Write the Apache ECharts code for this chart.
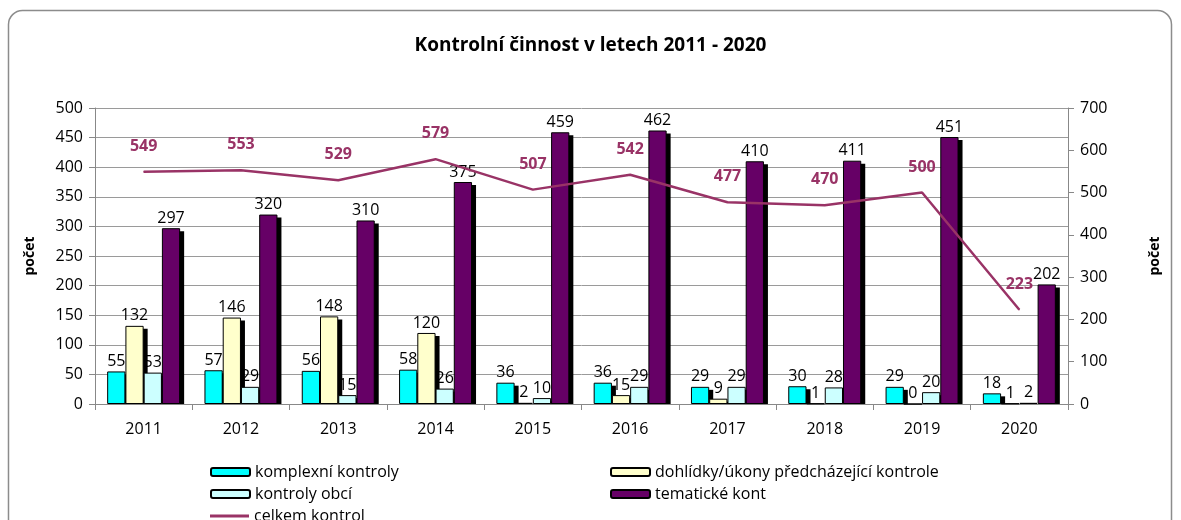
<!DOCTYPE html>
<html>
<head>
    <meta charset="utf-8"/>
    <title>Kontrolní činnost</title>
    <script src="https://cdn.jsdelivr.net/npm/echarts@6/dist/echarts.min.js"></script>
    <style>
        html, body { margin: 0; padding: 0; background: #fff; }
        #main { width: 1181px; height: 520px; }
    </style>
</head>
<body>
<div id="main"></div>
<script>
    // data
    var years = ['2011', '2012', '2013', '2014', '2015', '2016', '2017', '2018', '2019', '2020'];
    var komplexni = [55, 57, 56, 58, 36, 36, 29, 30, 29, 18];
    var dohlidky = [132, 146, 148, 120, 2, 15, 9, 1, 0, 1];
    var obce = [53, 29, 15, 26, 10, 29, 29, 28, 20, 2];
    var tematicke = [297, 320, 310, 375, 459, 462, 410, 411, 451, 202];
    var celkem = [549, 553, 529, 579, 507, 542, 477, 470, 500, 223];

    var font = '"Open Sans", sans-serif';
    var catGap = 0.25;

    function barSeries(name, color, data) {
        return {
            name: name,
            type: 'bar',
            yAxisIndex: 0,
            barGap: '0%',
            barCategoryGap: (catGap * 100) + '%',
            data: data,
            z: 3,
            itemStyle: { color: color, borderColor: '#000', borderWidth: 1 },
            label: {
                show: true,
                position: 'top',
                distance: 2,
                color: '#000',
                fontFamily: font,
                fontSize: 16
            }
        };
    }

    // rows for the shadow series: [category index, 4 bar values]
    var shadowRows = [];
    for (var i = 0; i < years.length; i++) {
        shadowRows.push([i, komplexni[i], dohlidky[i], obce[i], tematicke[i]]);
    }

    // black drop shadow behind each bar, like in the Excel chart
    function renderShadow(params, api) {
        var idx = api.value(0);
        var band = api.size([1, 0])[0];
        var groupW = band * (1 - catGap);
        var bw = groupW / 4;
        var base = api.coord([idx, 0]);
        var kids = [];
        for (var s = 0; s < 4; s++) {
            var top = api.coord([idx, api.value(s + 1)])[1];
            var h = base[1] - top - 3;
            if (h <= 0) continue;
            kids.push({
                type: 'rect',
                shape: { x: base[0] - groupW / 2 + s * bw + 4, y: top + 3, width: bw, height: h },
                style: { fill: '#000' }
            });
        }
        return { type: 'group', children: kids };
    }

    function legendItem(name, left, top, h) {
        return {
            orient: 'horizontal',
            left: left,
            top: top,
            itemWidth: 39,
            itemHeight: h,
            itemGap: 4,
            data: h < 5 ? [{ name: name, icon: 'rect' }] : [name],
            textStyle: { fontFamily: font, fontSize: 16, color: '#000' }
        };
    }

    var chart = echarts.init(document.getElementById('main'));
    var option = {
        backgroundColor: '#fff',
        animation: false,
        textStyle: { fontFamily: font },
        graphic: [{
            type: 'rect',
            shape: { x: 8.5, y: 10.5, width: 1163, height: 540, r: 14 },
            style: { fill: 'none', stroke: '#8c8c8c', lineWidth: 1.5 },
            z: -1
        }],
        title: {
            text: 'Kontrolní činnost v letech 2011 - 2020',
            left: 'center',
            top: 31,
            textStyle: { fontFamily: font, fontSize: 19, fontWeight: 'bold', color: '#000' }
        },
        legend: [
            legendItem('komplexní kontroly', 205, 459, 8),
            legendItem('kontroly obcí', 205, 481, 8),
            legendItem('celkem kontrol', 205, 503, 3),
            legendItem('dohlídky/úkony předcházející kontrole', 605, 459, 8),
            legendItem('tematické kont', 605, 481, 8)
        ],
        grid: { left: 95, right: 113, top: 108, bottom: 116 },
        xAxis: {
            type: 'category',
            data: years,
            axisLine: { lineStyle: { color: '#888' } },
            axisTick: { show: true, length: 6, lineStyle: { color: '#888' } },
            axisLabel: { color: '#000', fontSize: 16, margin: 17, fontFamily: font }
        },
        yAxis: [{
            type: 'value',
            min: 0,
            max: 500,
            interval: 50,
            name: 'počet',
            nameLocation: 'middle',
            nameRotate: 90,
            nameGap: 58,
            nameTextStyle: { fontWeight: 'bold', fontSize: 14, color: '#000', fontFamily: font },
            axisLine: { show: true, lineStyle: { color: '#888' } },
            axisTick: { show: true, length: 6, lineStyle: { color: '#888' } },
            axisLabel: { color: '#000', fontSize: 16, margin: 12, fontFamily: font },
            splitLine: { lineStyle: { color: '#9a9a9a' } }
        }, {
            type: 'value',
            min: 0,
            max: 700,
            interval: 100,
            position: 'right',
            name: 'počet',
            nameLocation: 'middle',
            nameRotate: 90,
            nameGap: 80,
            nameTextStyle: { fontWeight: 'bold', fontSize: 14, color: '#000', fontFamily: font },
            axisLine: { show: true, lineStyle: { color: '#888' } },
            axisTick: { show: true, length: 6, lineStyle: { color: '#888' } },
            axisLabel: { color: '#000', fontSize: 16, margin: 12, fontFamily: font },
            splitLine: { show: false }
        }],
        series: [
            barSeries('komplexní kontroly', '#00ffff', komplexni),
            barSeries('dohlídky/úkony předcházející kontrole', '#ffffcc', dohlidky),
            barSeries('kontroly obcí', '#ccffff', obce),
            barSeries('tematické kont', '#660066', tematicke),
            {
                type: 'custom',
                name: 'stin',
                renderItem: renderShadow,
                data: shadowRows,
                encode: { x: 0, y: [1, 2, 3, 4] },
                silent: true,
                z: 2
            },
            {
                name: 'celkem kontrol',
                type: 'line',
                yAxisIndex: 1,
                data: celkem,
                symbol: 'circle',
                symbolSize: 1,
                z: 5,
                lineStyle: { color: '#993366', width: 2.5 },
                itemStyle: { color: '#993366' },
                label: {
                    show: true,
                    position: 'top',
                    distance: 17,
                    color: '#993366',
                    fontWeight: 'bold',
                    fontSize: 16,
                    fontFamily: font
                }
            }
        ]
    };
    chart.setOption(option);
</script>
</body>
</html>
